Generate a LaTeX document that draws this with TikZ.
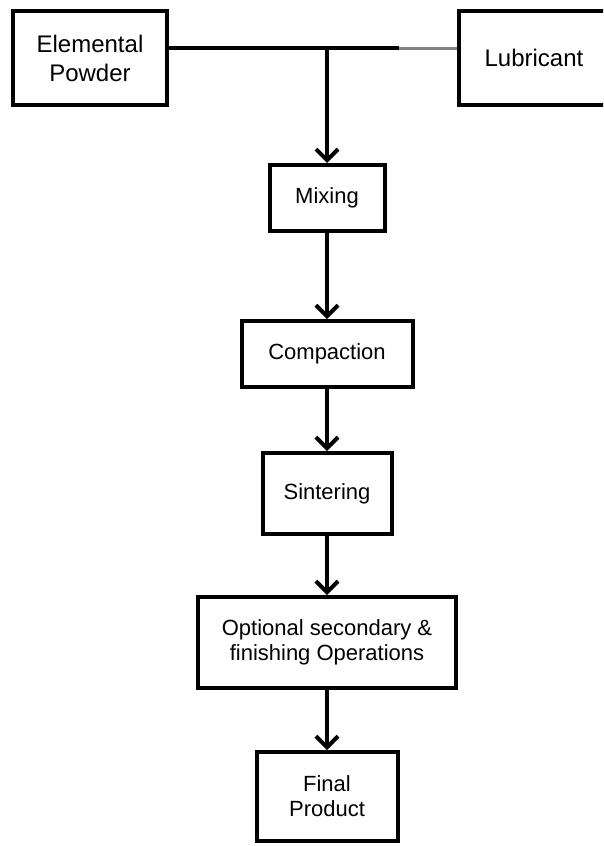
\documentclass[tikz,border=0pt]{standalone}
\usepackage{fontspec}
\setmainfont{Liberation Sans}
\usetikzlibrary{arrows.meta}

\tikzset{
  procbox/.style={draw=black, line width=4pt, fill=white, inner sep=0pt,
    align=center, font=\fontsize{22}{25}\selectfont},
  feedbox/.style={procbox, font=\fontsize{24}{29}\selectfont},
  flow/.style={line width=4pt, -{Straight Barb[length=11pt,width=22pt]}}
}

\begin{document}
\begin{tikzpicture}[x=1pt, y=-1pt]
\def\jx{327}
\def\jy{48}

% 画布范围
\useasboundingbox (0,0) rectangle (603,846);
\clip (0,0) rectangle (603,846);
\fill [white] (0,0) rectangle (603,846);

% 顶部两个原料框
\node [feedbox, minimum width=154pt, minimum height=94pt] (powder) at (90,58) {Elemental\\Powder};
\node [feedbox, minimum width=150pt, minimum height=94pt] (lube) at (534,58) {Lubricant};

% 汇合点与灰色线段起点
\coordinate (join) at (\jx,\jy);
\coordinate (fade) at (399,\jy);

% 工序框,自上而下
\node [procbox, minimum width=115pt, minimum height=66pt] (mix) at (\jx,198) {Mixing};
\node [procbox, minimum width=171pt, minimum height=66pt] (press) at (\jx,354) {Compaction};
\node [procbox, minimum width=129pt, minimum height=81pt] (sinter) at (\jx,493.5) {Sintering};
\node [procbox, minimum width=258pt, minimum height=91pt] (finish) at (\jx,642.5) {Optional secondary \&\\finishing Operations};
\node [procbox, minimum width=141pt, minimum height=89pt] (product) at (\jx,796.5) {Final\\Product};

% 横线:左段黑色,右段灰色
\draw [line width=4pt] (powder.east |- join) -- (fade);
\draw [line width=3pt, gray] (fade) -- (lube.west |- fade);

% 竖向箭头
\draw [flow] (join) -- (mix.north);
\draw [flow] (mix) -- (press);
\draw [flow] (press) -- (sinter);
\draw [flow] (sinter) -- (finish);
\draw [flow] (finish) -- (product);

\end{tikzpicture}
\end{document}
